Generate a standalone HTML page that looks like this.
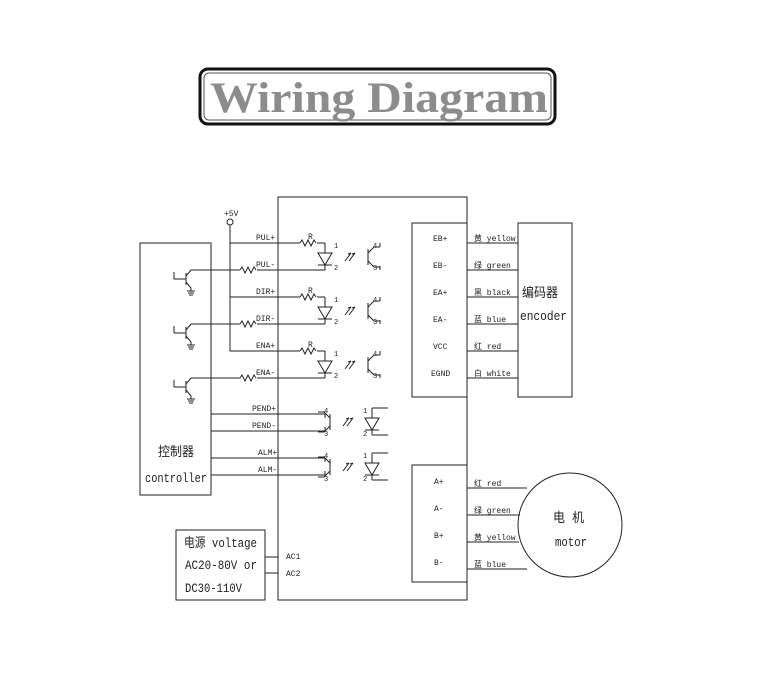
<!DOCTYPE html>
<html><head><meta charset="utf-8"><style>
html,body{margin:0;padding:0;background:#fff}
svg{display:block}
text{font-family:"Liberation Mono","WenQuanYi Zen Hei",monospace;fill:#222}
</style></head><body>
<svg width="760" height="688" viewBox="0 0 760 688" xmlns="http://www.w3.org/2000/svg">
<defs>
<g id="tr" stroke="#222" stroke-width="1" fill="none">
  <path d="M-17,9 H-5 M-5,3 V15 M-5,6 L0,0 M-5,12 L0,18 V21 M-4,21 H4 M-3,23 H3 M-2,25 H2"/>
  <path d="M-17,9 V2"/>
</g>
<g id="diode" stroke="#222" stroke-width="1" fill="none">
  <path d="M0,0 V10 M-7,10 H7 L0,22 Z M-7,22 H7 M0,22 V27"/>
</g>
<g id="res" stroke="#222" stroke-width="1" fill="none">
  <path d="M0,0 l2,-3 l3,6 l3,-6 l3,6 l3,-6 l2,3"/>
</g>
<g id="pt" stroke="#222" stroke-width="1" fill="none">
  <path d="M0,6 V22 M0,10 L6,4 H12 M0,18 L6,24 H12"/>
</g>
<g id="lt" stroke="#222" stroke-width="1" fill="none">
  <path d="M0,8 L6,0 M4,8 L10,0 M6,0 l-3,1 M10,0 l-3,1"/>
</g>
</defs>

<rect x="200" y="69" width="355" height="55" rx="8" fill="#fff" stroke="#111" stroke-width="3"/>
<rect x="204" y="73" width="347" height="47" rx="5" fill="none" stroke="#555" stroke-width="1"/>
<text x="210" y="112" textLength="338" lengthAdjust="spacingAndGlyphs" style="font-family:'Liberation Serif',serif;font-weight:bold;font-size:43px;fill:#8c8c8c">Wiring Diagram</text>

<g stroke="#222" stroke-width="1" fill="none">
  <rect x="278" y="197" width="189" height="403"/>
  <rect x="140" y="243" width="71" height="252"/>
  <rect x="412" y="223" width="55" height="174"/>
  <rect x="518" y="223" width="54" height="174"/>
  <rect x="412" y="465" width="55" height="117"/>
  <circle cx="570" cy="525" r="52"/>
  <rect x="176" y="530" width="89" height="70"/>
  <path d="M265,557 H278 M265,573 H278"/>
  <path d="M467,243 H518 M467,270 H518 M467,297 H518 M467,324 H518 M467,351 H518 M467,378 H518"/>
  <path d="M467,488 H527 M467,515 H520 M467,542 H519 M467,569 H527"/>
  <circle cx="230" cy="222" r="3"/>
  <path d="M230,225 V351"/>
  <path d="M230,243 H300 M317,243 H325 M230,297 H300 M317,297 H325 M230,351 H300 M317,351 H325"/>
  <path d="M191,270 H240 M257,270 H325 M191,324 H240 M257,324 H325 M191,378 H240 M257,378 H325"/>
  <path d="M211,414 H325 M211,431 H325 M211,458 H325 M211,475 H325"/>
  <path d="M325,414 V418 M325,431 V427 M325,458 V462 M325,475 V471"/>
  <path d="M380,243 V247 M380,270 V266 M380,297 V301 M380,324 V320 M380,351 V355 M380,378 V374"/>
  <path d="M372,408 H388 M372,435 H388 M372,453 H388 M372,480 H388"/>
</g>

<use href="#res" x="300" y="243"/><use href="#res" x="300" y="297"/><use href="#res" x="300" y="351"/>
<use href="#res" x="240" y="270"/><use href="#res" x="240" y="324"/><use href="#res" x="240" y="378"/>
<use href="#diode" x="325" y="243"/><use href="#diode" x="325" y="297"/><use href="#diode" x="325" y="351"/>
<use href="#diode" x="372" y="408"/><use href="#diode" x="372" y="453"/>
<use href="#lt" x="345" y="253"/><use href="#lt" x="345" y="307"/><use href="#lt" x="345" y="361"/>
<use href="#lt" x="343" y="418"/><use href="#lt" x="343" y="463"/>
<use href="#pt" x="368" y="243"/><use href="#pt" x="368" y="297"/><use href="#pt" x="368" y="351"/>
<g transform="translate(330,408) scale(-1,1)"><use href="#pt"/></g>
<g transform="translate(330,453) scale(-1,1)"><use href="#pt"/></g>
<use href="#tr" x="191" y="270"/><use href="#tr" x="191" y="324"/><use href="#tr" x="191" y="378"/>

<g style="font-size:7px">
  <text x="334" y="248">1</text><text x="334" y="270">2</text>
  <text x="334" y="302">1</text><text x="334" y="324">2</text>
  <text x="334" y="356">1</text><text x="334" y="378">2</text>
  <text x="373" y="248">4</text><text x="373" y="270">3</text>
  <text x="373" y="302">4</text><text x="373" y="324">3</text>
  <text x="373" y="356">4</text><text x="373" y="378">3</text>
  <text x="324" y="413">4</text><text x="324" y="436">3</text>
  <text x="324" y="458">4</text><text x="324" y="481">3</text>
  <text x="363" y="413">1</text><text x="363" y="436">2</text>
  <text x="363" y="458">1</text><text x="363" y="481">2</text>
</g>

<g style="font-size:8px">
  <text x="224" y="216">+5V</text>
  <text x="256" y="240">PUL+</text><text x="256" y="267">PUL-</text>
  <text x="256" y="294">DIR+</text><text x="256" y="321">DIR-</text>
  <text x="256" y="348">ENA+</text><text x="256" y="375">ENA-</text>
  <text x="308" y="239">R</text><text x="308" y="293">R</text><text x="308" y="347">R</text>
  <text x="252" y="411">PEND+</text><text x="252" y="428">PEND-</text>
  <text x="258" y="455">ALM+</text><text x="258" y="472">ALM-</text>
  <text x="286" y="559">AC1</text><text x="286" y="576">AC2</text>
  <text x="433" y="241">EB+</text><text x="433" y="268">EB-</text>
  <text x="433" y="295">EA+</text><text x="433" y="322">EA-</text>
  <text x="433" y="349">VCC</text><text x="431" y="376">EGND</text>
  <text x="474" y="241">黄 yellow</text><text x="474" y="268">绿 green</text>
  <text x="474" y="295">黑 black</text><text x="474" y="322">蓝 blue</text>
  <text x="474" y="349">红 red</text><text x="474" y="376">白 white</text>
  <text x="434" y="484">A+</text><text x="434" y="511">A-</text>
  <text x="434" y="538">B+</text><text x="434" y="565">B-</text>
  <text x="474" y="486">红 red</text><text x="474" y="513">绿 green</text>
  <text x="474" y="540">黄 yellow</text><text x="474" y="567">蓝 blue</text>
</g>
<g style="font-size:13px">
  <text x="522" y="297" textLength="36" lengthAdjust="spacingAndGlyphs">编码器</text>
  <text x="520" y="320" textLength="47" lengthAdjust="spacingAndGlyphs">encoder</text>
  <text x="553" y="522" textLength="31" lengthAdjust="spacingAndGlyphs">电 机</text>
  <text x="555" y="546" textLength="32" lengthAdjust="spacingAndGlyphs">motor</text>
  <text x="158" y="456" textLength="36" lengthAdjust="spacingAndGlyphs">控制器</text>
  <text x="145" y="482" textLength="62" lengthAdjust="spacingAndGlyphs">controller</text>
  <text x="184" y="547" textLength="73" lengthAdjust="spacingAndGlyphs">电源 voltage</text>
  <text x="185" y="569" textLength="72" lengthAdjust="spacingAndGlyphs">AC20-80V or</text>
  <text x="185" y="592" textLength="57" lengthAdjust="spacingAndGlyphs">DC30-110V</text>
</g>
</svg>
</body></html>
